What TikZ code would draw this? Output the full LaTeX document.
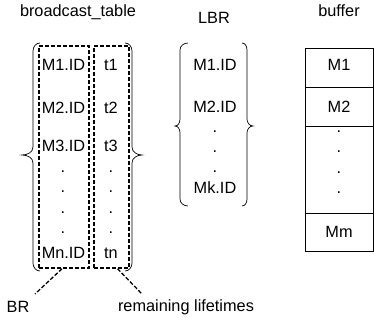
\documentclass[tikz,border=0pt]{standalone}
\usepackage{fontspec}
\setmainfont{Liberation Sans}
\usetikzlibrary{positioning}
\begin{document}
\begin{tikzpicture}[x=1pt,y=-1pt,
  txt/.style={inner sep=0pt,font=\fontsize{16.3}{19}\selectfont},
  dashbox/.style={draw,line width=1.5pt,dash pattern=on 4pt off 2pt,inner sep=0pt,minimum height=222pt},
  bracepath/.style={draw,line width=0.7pt},
  dashline/.style={draw,line width=1.3pt,dash pattern=on 4pt off 2pt},
  cell/.style={draw,line width=0.7pt,inner sep=0pt,minimum width=68pt}]
\useasboundingbox (0,0) rectangle (374,320);

% titles
\node[txt] (t1) at (78,12) {broadcast\_table};
\node[txt] (t2) at (214,18) {LBR};
\node[txt] (t3) at (339,11) {buffer};

% broadcast table columns
\node[dashbox,minimum width=50pt] (colL) at (64,157) {};
\node[dashbox,minimum width=35pt] (colR) at (111.5,157) {};

\node[txt] (a1) at (63.5,65) {M1.ID};
\node[txt] (a2) at (63.5,108) {M2.ID};
\node[txt] (a3) at (63.5,146) {M3.ID};
\node[txt] (ad1) at (63,172) {.};
\node[txt] (ad2) at (63,192) {.};
\node[txt] (ad3) at (63,213) {.};
\node[txt] (ad4) at (63,233) {.};
\node[txt] (an) at (63.5,253) {Mn.ID};

\node[txt] (b1) at (111,65) {t1};
\node[txt] (b2) at (111,108) {t2};
\node[txt] (b3) at (111,146) {t3};
\node[txt] (bd1) at (111,172) {.};
\node[txt] (bd2) at (111,192) {.};
\node[txt] (bd3) at (111,213) {.};
\node[txt] (bd4) at (111,233) {.};
\node[txt] (bn) at (111,253) {tn};

% braces of broadcast table
\draw[bracepath] (40,43) to[out=180,in=90] (33,51) -- (33,147) to[out=-90,in=0] (22,155)
  to[out=0,in=90] (33,163) -- (33,263) to[out=-90,in=180] (40,271);
\draw[bracepath] (125,43) to[out=0,in=90] (132,51) -- (132,147) to[out=-90,in=180] (142,155)
  to[out=180,in=90] (132,163) -- (132,263) to[out=-90,in=0] (125,271);

% labels below
\node[txt] (br) at (18,307) {BR};
\node[txt] (rl) at (186,307) {remaining lifetimes};
\coordinate (brend) at (35,294);
\coordinate (rlend) at (142,294);
\draw[dashline] ([xshift=-2pt]colL.south) -- (brend);
\draw[dashline] ([xshift=6pt]colR.south) -- (rlend);

% LBR
\node[txt] (l1) at (215,65) {M1.ID};
\node[txt] (l2) at (215,107) {M2.ID};
\node[txt] (ld1) at (215,132) {.};
\node[txt] (ld2) at (215,152) {.};
\node[txt] (ld3) at (215,172) {.};
\node[txt] (lk) at (215,188) {Mk.ID};
\draw[bracepath] (188,43) to[out=180,in=90] (180,50) -- (180,119) to[out=-90,in=0] (175,126)
  to[out=0,in=90] (180,133) -- (180,199) to[out=-90,in=180] (188,206);
\draw[bracepath] (242,43) to[out=0,in=90] (247,50) -- (247,119) to[out=-90,in=180] (253,126)
  to[out=180,in=90] (247,133) -- (247,199) to[out=-90,in=0] (242,206);

% buffer
\node[cell,minimum height=39pt,anchor=north west] (c1) at (305,48) {};
\node[cell,minimum height=39pt,anchor=north west] (c2) at (305,87) {};
\node[cell,minimum height=87pt,anchor=north west] (c3) at (305,126) {};
\node[cell,minimum height=38pt,anchor=north west] (c4) at (305,213) {};
\draw[line width=1.4pt] (c1.south west) -- (c1.south east);
\node[txt] (m1) at (339,65) {M1};
\node[txt] (m2) at (339,107) {M2};
\node[txt] (md1) at (339,132) {.};
\node[txt] (md2) at (339,152) {.};
\node[txt] (md3) at (339,173) {.};
\node[txt] (md4) at (339,193) {.};
\node[txt] (mm) at (339,232) {Mm};
\end{tikzpicture}
\end{document}
